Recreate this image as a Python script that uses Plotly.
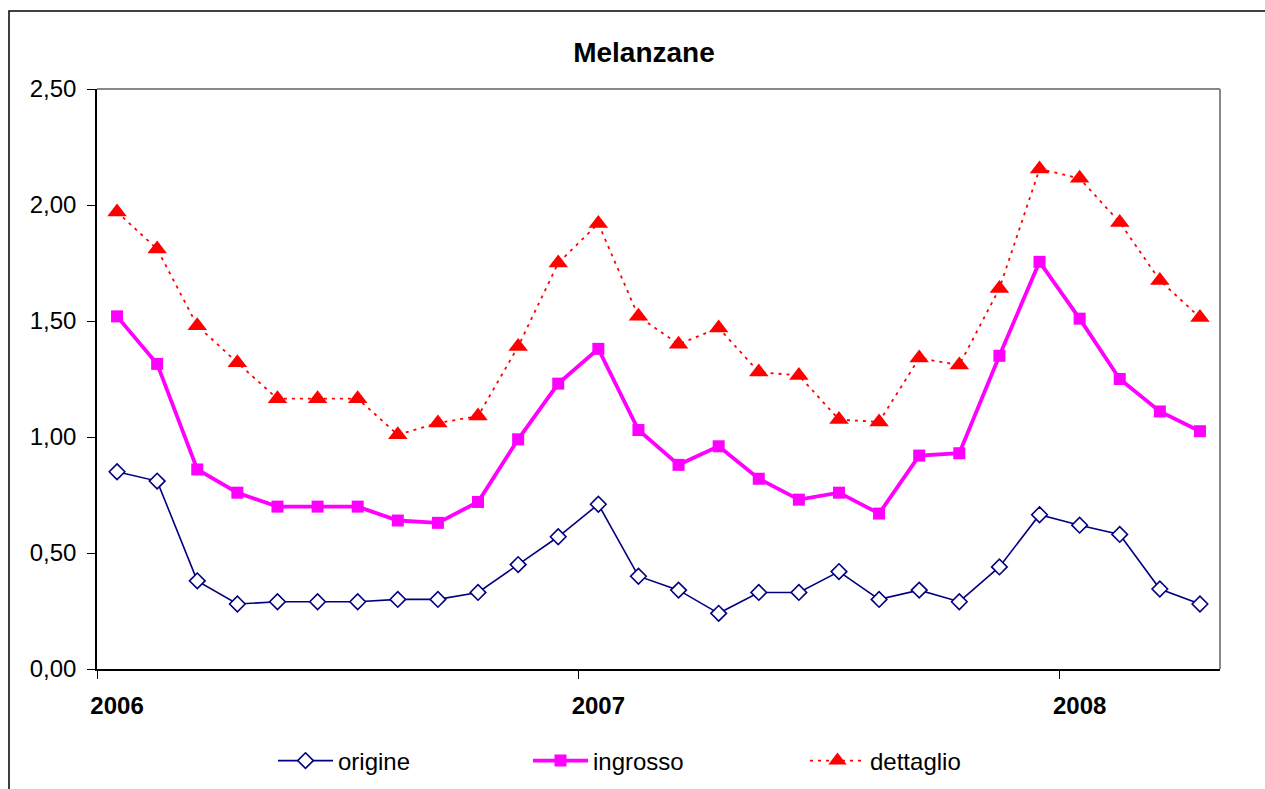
import plotly.graph_objects as go

months = list(range(28))
tick_positions = [0, 12, 24]
tick_labels = ["2006", "2007", "2008"]

origine = [0.85, 0.81, 0.38, 0.28, 0.29, 0.29, 0.29, 0.30, 0.30, 0.33, 0.45, 0.57,
           0.71, 0.40, 0.34, 0.24, 0.33, 0.33, 0.42, 0.30, 0.34, 0.29, 0.44, 0.665,
           0.62, 0.58, 0.345, 0.28]
ingrosso = [1.52, 1.315, 0.86, 0.76, 0.70, 0.70, 0.70, 0.64, 0.63, 0.72, 0.99, 1.23,
            1.38, 1.03, 0.88, 0.96, 0.82, 0.73, 0.76, 0.67, 0.92, 0.93, 1.35, 1.755,
            1.51, 1.25, 1.11, 1.025]
dettaglio = [1.97, 1.81, 1.48, 1.32, 1.165, 1.165, 1.165, 1.01, 1.06, 1.09, 1.39, 1.75,
             1.92, 1.52, 1.40, 1.47, 1.28, 1.265, 1.075, 1.065, 1.34, 1.31, 1.64, 2.155,
             2.115, 1.925, 1.675, 1.515]

FONT = "Liberation Sans, Arial, sans-serif"

W, H = 1265, 789
L, R, T, B = 97, 1220, 89, 669
pw, ph = R - L, B - T


def px_x(x):
    return (x - L) / pw


def px_y(y):
    return (B - y) / ph


fig = go.Figure()
fig.add_trace(go.Scatter(
    x=months, y=origine, name="origine", mode="lines+markers", legend="legend",
    line=dict(color="#000080", width=1.6),
    marker=dict(symbol="diamond", size=12, color="white",
                line=dict(color="#000080", width=1.6)),
))
fig.add_trace(go.Scatter(
    x=months, y=ingrosso, name="ingrosso", mode="lines+markers", legend="legend2",
    line=dict(color="#FF00FF", width=3.8),
    marker=dict(symbol="square", size=12, color="#FF00FF",
                line=dict(color="#FF00FF", width=0)),
))
fig.add_trace(go.Scatter(
    x=months, y=dettaglio, name="dettaglio", mode="lines+markers", legend="legend3",
    line=dict(color="#FF0000", width=1.8, dash="3px,5px"),
    marker=dict(symbol="triangle-up", size=17, color="#FF0000",
                line=dict(color="#FF0000", width=0)),
))

legend_common = dict(orientation="h", xanchor="left", y=px_y(761), yanchor="middle",
                     font=dict(family=FONT, size=24, color="black"),
                     itemwidth=55, bgcolor="rgba(0,0,0,0)")

fig.update_layout(
    width=W, height=H,
    margin=dict(l=L, r=W - R, t=T, b=H - B, autoexpand=False),
    paper_bgcolor="white", plot_bgcolor="white",
    separators=",.",
    font=dict(family=FONT, size=24, color="black"),
    showlegend=True,
    title=dict(text="<b>Melanzane</b>", x=644 / W,
               xanchor="center", y=1 - 52 / H, yanchor="middle",
               font=dict(family=FONT, size=28, color="black")),
    legend=dict(x=px_x(273), **legend_common),
    legend2=dict(x=px_x(528), **legend_common),
    legend3=dict(x=px_x(805), **legend_common),
    xaxis=dict(
        range=[-0.5, 27.5], showgrid=False, zeroline=False,
        showline=True, linecolor="black", linewidth=1.5,
        tickmode="array", tickvals=tick_positions, ticktext=tick_labels,
        tickfont=dict(family=FONT, size=24, color="black", weight="bold"),
        ticks="outside", ticklen=14, tickcolor="rgba(0,0,0,0)",
        minor=dict(tick0=-0.5, dtick=12, ticks="outside", ticklen=8,
                   tickcolor="black", tickwidth=1.2, showgrid=False),
        fixedrange=True, automargin=False,
    ),
    yaxis=dict(
        range=[0, 2.5], dtick=0.5, tick0=0, tickformat=".2f",
        showgrid=False, zeroline=False,
        showline=True, linecolor="black", linewidth=1.5,
        ticks="outside", ticklen=8, tickcolor="black", tickwidth=1.2,
        ticklabelstandoff=6,
        tickfont=dict(family=FONT, size=24, color="black"),
        fixedrange=True, automargin=False,
    ),
)

# plot area border (top/right grey)
fig.add_shape(type="line", xref="paper", yref="paper", x0=0, x1=1, y0=1, y1=1,
              line=dict(color="#888888", width=2))
fig.add_shape(type="line", xref="paper", yref="paper", x0=1, x1=1, y0=0, y1=1,
              line=dict(color="#888888", width=2))
# outer chart border
fig.add_shape(type="rect", xref="paper", yref="paper",
              x0=px_x(9), x1=px_x(1270), y0=px_y(795), y1=px_y(11),
              line=dict(color="black", width=1.5), fillcolor="rgba(0,0,0,0)",
              layer="below")

fig.write_html("out.html", config={"displayModeBar": False},
               post_script="document.body.style.margin='0';document.body.style.overflow='hidden';")
